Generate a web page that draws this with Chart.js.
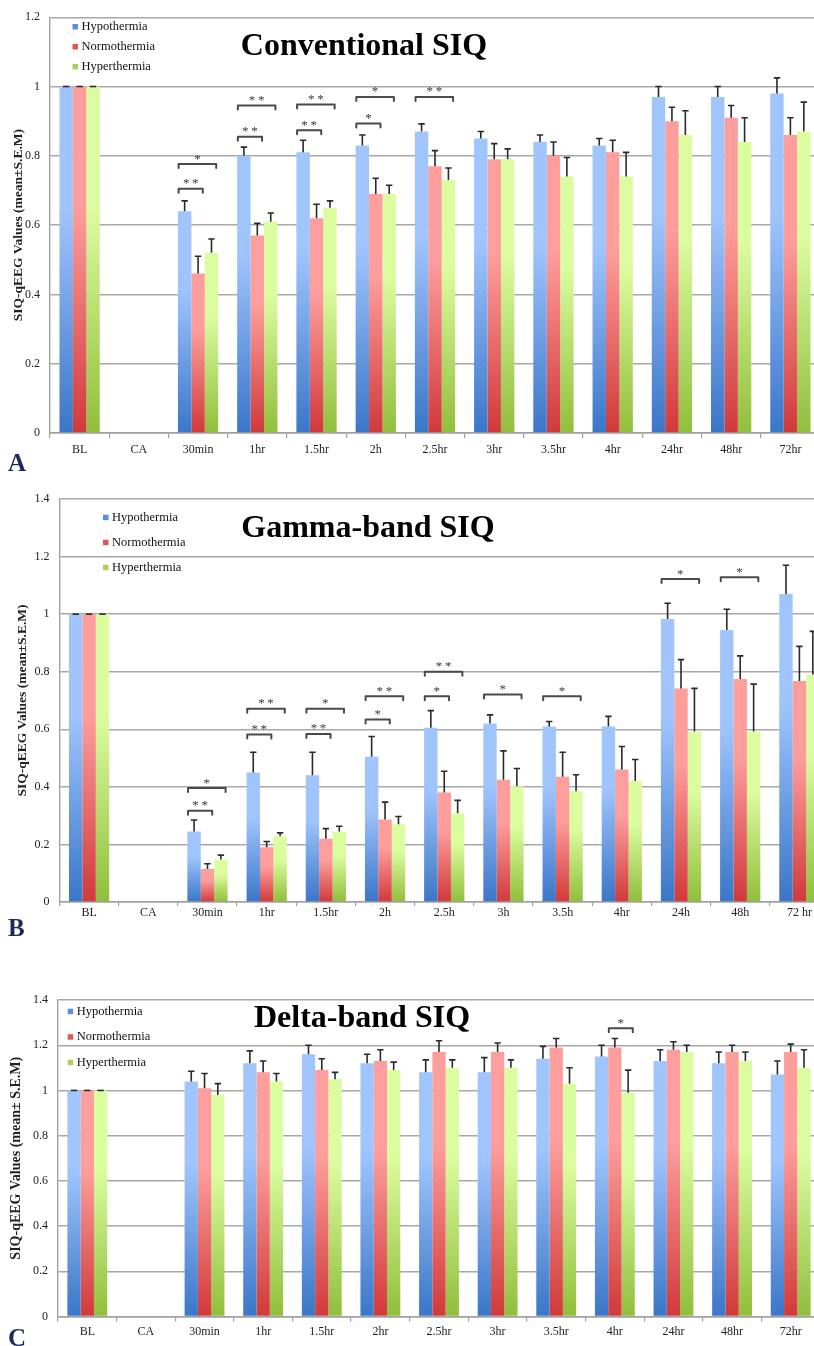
<!DOCTYPE html>
<html>
<head>
<meta charset="utf-8">
<script src="https://cdn.jsdelivr.net/npm/chart.js@4.4.1/dist/chart.umd.min.js"></script>
<style>
  html, body { margin: 0; padding: 0; background: #fff; overflow: hidden; width: 814px; height: 1346px; }
  canvas { position: absolute; left: 0; }
</style>
</head>
<body>
<canvas id="panelA"></canvas>
<canvas id="panelB"></canvas>
<canvas id="panelC"></canvas>
<script>
// ---- data -------------------------------------------------------------
const seriesNames = ['Hypothermia', 'Normothermia', 'Hyperthermia'];

// A: conventional SIQ
const timepointsA = ['BL', 'CA', '30min', '1hr', '1.5hr', '2h', '2.5hr', '3hr', '3.5hr', '4hr', '24hr', '48hr', '72hr'];
const hypoA      = [1, null, 0.64, 0.80, 0.81, 0.83, 0.87, 0.85, 0.84, 0.83, 0.97, 0.97, 0.98];
const hypoErrA   = [0, null, 0.03, 0.025, 0.035, 0.03, 0.022, 0.02, 0.02, 0.02, 0.03, 0.03, 0.045];
const normoA     = [1, null, 0.46, 0.57, 0.62, 0.69, 0.77, 0.79, 0.80, 0.81, 0.90, 0.91, 0.86];
const normoErrA  = [0, null, 0.05, 0.035, 0.04, 0.045, 0.045, 0.045, 0.04, 0.035, 0.04, 0.035, 0.05];
const hyperA     = [1, null, 0.52, 0.61, 0.65, 0.69, 0.73, 0.79, 0.74, 0.74, 0.86, 0.84, 0.87];
const hyperErrA  = [0, null, 0.04, 0.025, 0.02, 0.025, 0.035, 0.03, 0.055, 0.07, 0.07, 0.07, 0.085];
// significance brackets: [time index, from series, to series, height, stars]
const sigA = [
  [2, 0, 1, 0.705, '**'], [2, 0, 2, 0.776, '*'],
  [3, 0, 1, 0.855, '**'], [3, 0, 2, 0.945, '**'],
  [4, 0, 1, 0.874, '**'], [4, 0, 2, 0.948, '**'],
  [5, 0, 1, 0.893, '*'],  [5, 0, 2, 0.970, '*'],
  [6, 0, 2, 0.970, '**']
];
const yTicksA = { max: 1.2, step: 0.2 };

// B: gamma-band SIQ
const timepointsB = ['BL', 'CA', '30min', '1hr', '1.5hr', '2h', '2.5h', '3h', '3.5h', '4hr', '24h', '48h', '72 hr'];
const hypoB      = [1, null, 0.245, 0.45, 0.44, 0.505, 0.605, 0.62, 0.61, 0.61, 0.983, 0.945, 1.07];
const hypoErrB   = [0, null, 0.04, 0.07, 0.08, 0.07, 0.06, 0.03, 0.017, 0.035, 0.055, 0.072, 0.10];
const normoB     = [1, null, 0.115, 0.19, 0.22, 0.287, 0.38, 0.425, 0.435, 0.46, 0.742, 0.775, 0.768];
const normoErrB  = [0, null, 0.018, 0.02, 0.035, 0.06, 0.074, 0.10, 0.085, 0.08, 0.10, 0.08, 0.12];
const hyperB     = [1, null, 0.148, 0.228, 0.245, 0.27, 0.308, 0.402, 0.385, 0.42, 0.592, 0.592, 0.79];
const hyperErrB  = [0, null, 0.015, 0.012, 0.018, 0.027, 0.045, 0.062, 0.057, 0.075, 0.15, 0.165, 0.15];
const sigB = [
  [2, 0, 1, 0.317, '**'], [2, 0, 2, 0.396, '*'],
  [3, 0, 1, 0.582, '**'], [3, 0, 2, 0.671, '**'],
  [4, 0, 1, 0.584, '**'], [4, 0, 2, 0.671, '*'],
  [5, 0, 1, 0.634, '*'],  [5, 0, 2, 0.715, '**'],
  [6, 0, 1, 0.715, '*'],  [6, 0, 2, 0.800, '**'],
  [7, 0, 2, 0.721, '*'],
  [8, 0, 2, 0.715, '*'],
  [10, 0, 2, 1.122, '*'],
  [11, 0, 2, 1.128, '*']
];
const yTicksB = { max: 1.4, step: 0.2 };

// C: delta-band SIQ
const timepointsC = ['BL', 'CA', '30min', '1hr', '1.5hr', '2hr', '2.5hr', '3hr', '3.5hr', '4hr', '24hr', '48hr', '72hr'];
const hypoC      = [1, null, 1.04, 1.12, 1.16, 1.12, 1.08, 1.08, 1.14, 1.15, 1.13, 1.12, 1.07];
const hypoErrC   = [0, null, 0.045, 0.055, 0.04, 0.04, 0.055, 0.065, 0.055, 0.05, 0.05, 0.05, 0.06];
const normoC     = [1, null, 1.01, 1.08, 1.09, 1.13, 1.17, 1.17, 1.19, 1.19, 1.18, 1.17, 1.17];
const normoErrC  = [0, null, 0.065, 0.05, 0.05, 0.05, 0.05, 0.04, 0.04, 0.04, 0.035, 0.03, 0.035];
const hyperC     = [1, null, 0.98, 1.04, 1.05, 1.09, 1.10, 1.10, 1.03, 0.99, 1.17, 1.13, 1.10];
const hyperErrC  = [0, null, 0.05, 0.035, 0.03, 0.035, 0.035, 0.035, 0.07, 0.10, 0.03, 0.04, 0.08];
const sigC = [
  [9, 1, 2, 1.275, '*']
];
const yTicksC = { max: 1.4, step: 0.2 };

// ---- styling ----------------------------------------------------------
const SERIF = '"Liberation Serif", "Times New Roman", serif';
const barShades = [
  { light: '#a0c5fd', dark: '#3a76c8' },
  { light: '#fd9e9c', dark: '#d1393a' },
  { light: '#dcfca0', dark: '#91be3c' }
];
const swatches = ['#5a8fe0', '#e35654', '#a9d35c'];
const CANVAS_W = 840;

function barGradient(shade) {
  return (c) => {
    const chart = c.chart;
    const v = c.raw;
    if (v == null || !chart.chartArea) return shade.dark;
    const y = chart.scales.y;
    const top = y.getPixelForValue(v);
    const base = y.getPixelForValue(0);
    const g = chart.ctx.createLinearGradient(0, top, 0, base);
    g.addColorStop(0, shade.light);
    g.addColorStop(0.35, shade.light);
    g.addColorStop(1, shade.dark);
    return g;
  };
}

// upward-only S.E.M. whiskers
const errorBars = {
  id: 'errorBars',
  afterDatasetsDraw(chart) {
    const { ctx } = chart;
    const y = chart.scales.y;
    ctx.save();
    ctx.strokeStyle = '#2a2a2a';
    ctx.lineWidth = 1.6;
    chart.data.datasets.forEach((ds, i) => {
      chart.getDatasetMeta(i).data.forEach((bar, j) => {
        const v = ds.data[j], e = ds.errors[j];
        if (v == null || e == null) return;
        const y0 = y.getPixelForValue(v);
        const y1 = y.getPixelForValue(v + e);
        ctx.beginPath();
        ctx.moveTo(bar.x, y0); ctx.lineTo(bar.x, y1);
        ctx.moveTo(bar.x - 3.2, y1); ctx.lineTo(bar.x + 3.2, y1);
        ctx.stroke();
      });
    });
    ctx.restore();
  }
};

// significance brackets with stars
const sigBrackets = {
  id: 'sigBrackets',
  afterDatasetsDraw(chart, args, opts) {
    const { ctx } = chart;
    const y = chart.scales.y;
    ctx.save();
    ctx.strokeStyle = '#4a4a4a';
    ctx.lineWidth = 2;
    ctx.lineJoin = 'round';
    ctx.lineCap = 'round';
    ctx.fillStyle = '#3a3a3a';
    ctx.font = '13px ' + SERIF;
    ctx.textAlign = 'center';
    ctx.textBaseline = 'alphabetic';
    (opts.items || []).forEach(([cat, a, b, v, stars]) => {
      const barA = chart.getDatasetMeta(a).data[cat];
      const barB = chart.getDatasetMeta(b).data[cat];
      const w = barA.width;
      const xl = barA.x - 0.45 * w;
      const xr = barB.x + 0.35 * w;
      const yy = y.getPixelForValue(v);
      ctx.beginPath();
      ctx.moveTo(xl, yy + 4); ctx.lineTo(xl, yy); ctx.lineTo(xr, yy); ctx.lineTo(xr, yy + 4);
      ctx.stroke();
      ctx.fillText(stars.split('').join('\u2009'), (xl + xr) / 2, yy - 1.5);
    });
    ctx.restore();
  }
};

// title, in-plot legend and panel letter
const panelDecor = {
  id: 'panelDecor',
  afterDraw(chart, args, opts) {
    const { ctx } = chart;
    ctx.save();
    ctx.fillStyle = '#000';
    ctx.textAlign = 'center';
    ctx.textBaseline = 'alphabetic';
    ctx.font = 'bold 32px ' + SERIF;
    ctx.fillText(opts.title, opts.titleX, opts.titleY);

    ctx.font = '12.5px ' + SERIF;
    ctx.textAlign = 'left';
    ctx.textBaseline = 'middle';
    chart.data.datasets.forEach((ds, i) => {
      const ry = opts.legendY + i * opts.legendGap;
      ctx.fillStyle = swatches[i];
      ctx.fillRect(opts.legendX, ry - 3, 5.5, 5.5);
      ctx.fillStyle = '#111';
      ctx.fillText(ds.label, opts.legendX + 9, ry);
    });

    ctx.font = 'bold 25px ' + SERIF;
    ctx.fillStyle = '#1a2a5a';
    ctx.fillText(opts.letter, opts.letterX, opts.letterY);
    ctx.restore();
  }
};

// tick text as "0", "0.2", ... "1", "1.2"
const tickText = (v) => String(Number(v.toFixed(1)));

function makePanel(id, layout, labels, series, errors, sig, yTicks, yTitle, decor) {
  const canvas = document.getElementById(id);
  canvas.width = CANVAS_W;
  canvas.height = layout.height;
  canvas.style.top = layout.top + 'px';
  canvas.style.width = CANVAS_W + 'px';
  canvas.style.height = layout.height + 'px';

  const datasets = series.map((data, i) => ({
    label: seriesNames[i],
    data: data,
    errors: errors[i],
    backgroundColor: barGradient(barShades[i]),
    borderWidth: 0,
    categoryPercentage: 0.68,
    barPercentage: 1.0
  }));

  return new Chart(canvas, {
    type: 'bar',
    data: { labels: labels, datasets: datasets },
    plugins: [errorBars, sigBrackets, panelDecor],
    options: {
      responsive: false,
      animation: false,
      devicePixelRatio: 1,
      layout: { padding: { top: layout.areaTop, bottom: 0, left: 0, right: CANVAS_W - layout.areaRight } },
      plugins: {
        legend: { display: false },
        tooltip: { enabled: false },
        sigBrackets: { items: sig },
        panelDecor: decor
      },
      scales: {
        x: {
          grid: { drawOnChartArea: false, drawTicks: true, tickLength: layout.xTickLen, color: '#a0a0a0', lineWidth: 1.2 },
          border: { display: true, color: '#a0a0a0', width: 1.5 },
          ticks: { color: '#222', font: { family: SERIF, size: 12 }, padding: layout.xPad, maxRotation: 0, autoSkip: false },
          afterFit: (s) => { s.height = layout.height - layout.areaBottom; }
        },
        y: {
          min: 0,
          max: yTicks.max,
          ticks: { stepSize: yTicks.step, color: '#222', font: { family: SERIF, size: 12 }, padding: 10, callback: tickText },
          grid: { drawTicks: false, color: '#a8a8a8', lineWidth: 1.4 },
          border: { display: true, color: '#a0a0a0', width: 1.4 },
          title: {
            display: true,
            text: yTitle,
            color: '#222',
            font: { family: SERIF, size: layout.yTitleSize, weight: 'bold' },
            padding: { top: layout.yTitlePad, bottom: 0 }
          },
          afterFit: (s) => { s.width = layout.areaLeft; }
        }
      }
    }
  });
}

makePanel('panelA',
  { top: 0, height: 475, areaTop: 10, areaBottom: 433, areaLeft: 50, areaRight: 820, xTickLen: 5, xPad: 5, yTitlePad: 10, yTitleSize: 13.5 },
  timepointsA, [hypoA, normoA, hyperA], [hypoErrA, normoErrA, hyperErrA], sigA, yTicksA,
  'SIQ-qEEG Values (mean\u00b1S.E.M)',
  { title: 'Conventional SIQ', titleX: 364, titleY: 55, legendX: 72.5, legendY: 27, legendGap: 20, letter: 'A', letterX: 8, letterY: 465 });

makePanel('panelB',
  { top: 478, height: 462, areaTop: 21, areaBottom: 424, areaLeft: 59.5, areaRight: 829, xTickLen: 4, xPad: 0, yTitlePad: 14, yTitleSize: 13.5 },
  timepointsB, [hypoB, normoB, hyperB], [hypoErrB, normoErrB, hyperErrB], sigB, yTicksB,
  'SIQ-qEEG Values (mean\u00b1S.E.M)',
  { title: 'Gamma-band SIQ', titleX: 368, titleY: 59, legendX: 103, legendY: 39.7, legendGap: 25, letter: 'B', letterX: 8, letterY: 452 });

makePanel('panelC',
  { top: 958, height: 388, areaTop: 42, areaBottom: 358.5, areaLeft: 58, areaRight: 820, xTickLen: 5, xPad: 3, yTitlePad: 8, yTitleSize: 14 },
  timepointsC, [hypoC, normoC, hyperC], [hypoErrC, normoErrC, hyperErrC], sigC, yTicksC,
  'SIQ-qEEG Values (mean\u00b1 S.E.M)',
  { title: 'Delta-band SIQ', titleX: 362, titleY: 69, legendX: 67.7, legendY: 53.7, legendGap: 25.5, letter: 'C', letterX: 8, letterY: 382 });
</script>
</body>
</html>
